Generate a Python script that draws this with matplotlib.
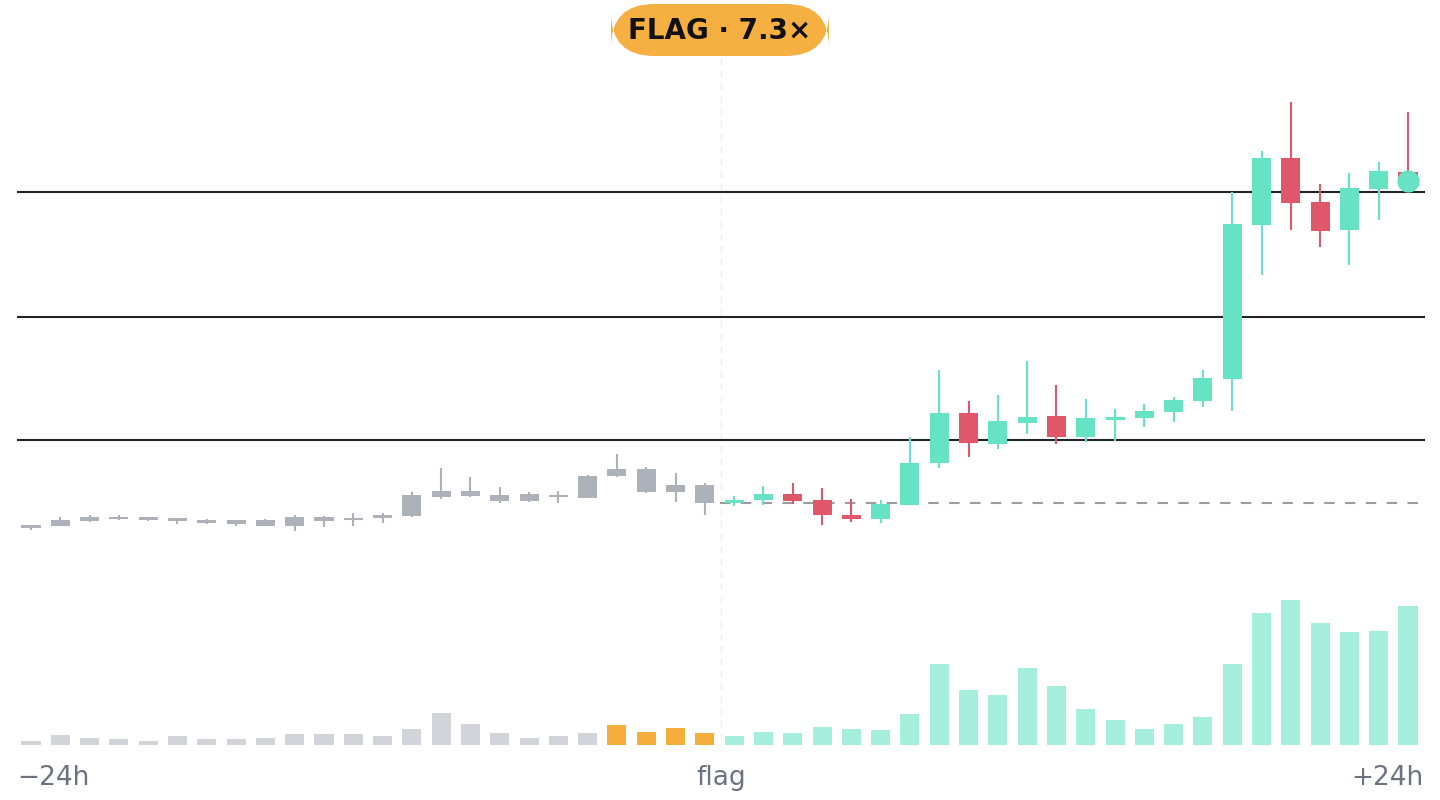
import matplotlib
matplotlib.use("Agg")
import matplotlib.pyplot as plt
from matplotlib.patches import FancyBboxPatch

opens  = [75,74,79,81,83,82,80,80,74,74,79,80,82,84,103,109,105,99,103,102,124,131,108,115,
          97,100,106,100,85,81,95,137,187,156,177,184,163,180,182,188,199,221,375,442,398,370,411,428]
closes = [72,80,83,83,80,79,77,76,80,83,83,82,85,105,109,104,99,106,105,124,131,108,115,97,
          100,106,99,85,81,96,137,187,157,179,183,163,182,183,189,200,222,376,442,397,369,412,429,419]
highs  = [75,83,85,85,83,82,81,80,81,85,84,87,87,108,132,123,113,108,109,125,146,133,127,117,
          104,114,117,112,101,100,163,230,199,205,239,215,201,191,196,203,230,408,449,498,416,427,438,488]
lows   = [70,74,78,80,79,76,76,74,74,69,73,74,77,83,101,103,97,98,97,102,123,107,98,85,
          94,95,96,75,78,77,95,132,143,151,166,156,158,159,173,178,193,189,325,370,353,335,380,409]
volumes = [4,10,7,6,4,9,6,6,7,11,11,11,9,16,32,21,12,7,9,12,20,13,17,12,
           9,13,12,18,16,15,31,81,55,50,77,59,36,25,16,21,28,81,132,145,122,113,114,139]
flag_index = 23.5
flag_price = 97
levels = [160, 283, 408]
tick_labels = ["\u221224h", "flag", "+24h"]
badge_text = "FLAG \u00b7 7.3\u00d7"

GRAY, GREEN, RED = "#adb2ba", "#66e3c4", "#e0576a"
VGRAY, VORANGE, VTEAL = "#d1d4d9", "#f5ad3b", "#a6eedc"

fig = plt.figure(figsize=(14.4, 8), dpi=100)
xl = (-0.478, 47.58)
ax = fig.add_axes([17/1440, 1-560/800, 1408/1440, 500/800])
vax = fig.add_axes([17/1440, 55/800, 1408/1440, 155/800])
for a in (ax, vax):
    a.set_xlim(*xl)
    a.axis("off")
ax.set_ylim(40, 540)
vax.set_ylim(0, 155)

for lv in levels:
    ax.axhline(lv, color="#1f2429", lw=1.5, zorder=1)
ax.plot([flag_index, xl[1]], [flag_price, flag_price], color="#9a9ca3", lw=1.5,
        dashes=(5, 5), zorder=1)

n = len(opens)
for i in range(n):
    o, c, h, l = opens[i], closes[i], highs[i], lows[i]
    if i < flag_index:
        col = GRAY
    else:
        col = GREEN if c >= o else RED
    ax.plot([i, i], [l, h], color=col, lw=1.5, zorder=2, solid_capstyle="butt")
    ax.bar(i, max(abs(c-o), 1.5), bottom=min(o, c), width=0.65, color=col, zorder=3)
    if i < 20:
        vc = VGRAY
    elif i < flag_index:
        vc = VORANGE
    else:
        vc = VTEAL
    vax.bar(i, volumes[i], width=0.65, color=vc)

ax.plot([n-1], [closes[-1]], "o", color=GREEN, ms=15, zorder=4)

# flag vertical dashed line across the figure
fig.add_artist(plt.Line2D([721/1440, 721/1440], [1-58/800, 1-745/800],
               color="#ececec", lw=1, dashes=(5, 4), zorder=0))

fig.text(17/1440, 1-778/800, tick_labels[0], ha="left", va="center", fontsize=19, color="#6b7280")
fig.text(721/1440, 1-778/800, tick_labels[1], ha="center", va="center", fontsize=19, color="#6b7280")
fig.text(1423/1440, 1-778/800, tick_labels[2], ha="right", va="center", fontsize=19, color="#6b7280")

bw, bh = 218/1440, 52/800
fig.patches.append(FancyBboxPatch((720/1440 - bw/2, 1-56/800), bw, bh,
                   boxstyle="round,pad=0,rounding_size=0.03", mutation_aspect=1.8,
                   transform=fig.transFigure, facecolor="#f5b041", edgecolor="none"))
fig.text(720/1440, 1-31/800, badge_text, ha="center", va="center", fontsize=20,
         fontweight="bold", color="#111111")

fig.savefig("out.png", dpi=100)
